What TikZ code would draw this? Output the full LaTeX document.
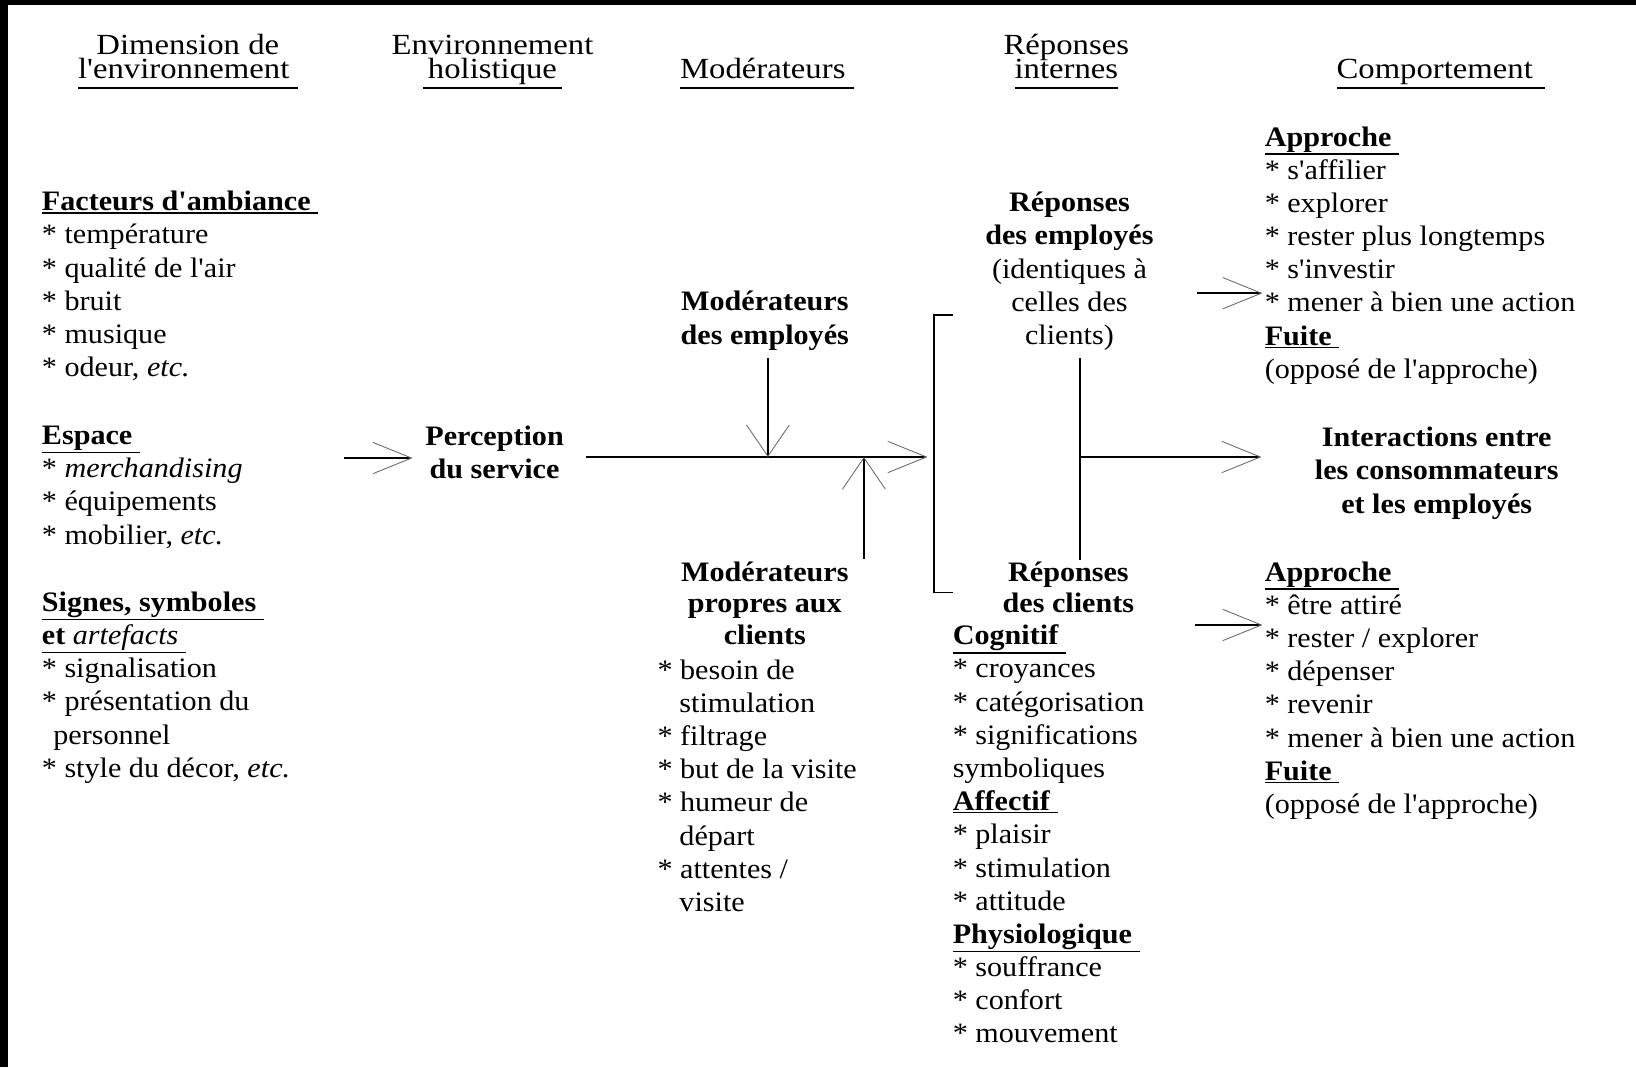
\documentclass[tikz,border=0pt]{standalone}
\usepackage{fontspec}
\setmainfont{Liberation Serif}
\newfontfamily\bodyfont[FakeStretch=1.07]{Liberation Serif}
\newfontfamily\headfont[FakeStretch=1.12]{Liberation Serif}
\usetikzlibrary{arrows.meta,calc}

% underline for the column headings: fixed distance under the baseline
\newcommand\hul[1]{\setbox0\hbox{#1}\rlap{\rule[-9.9pt]{\wd0}{1.8pt}}\box0}
% underline for the section titles: just under the descenders
\newcommand\bul[1]{\setbox0\hbox{#1}\rlap{\rule[\dimexpr-\dp0-2.4pt\relax]{\wd0}{1.3pt}}\box0}

% every text block is placed by the baseline of its last line
\tikzset{
  hdr/.style={font={\headfont\fontsize{28pt}{23pt}\selectfont\lineskiplimit=-40pt},
    align=center, inner sep=0pt, anchor=base},
  listtext/.style={font={\bodyfont\fontsize{27pt}{31.8pt}\selectfont\lineskiplimit=-40pt},
    align=left, inner sep=0pt, anchor=base west},
  sect/.style={font={\bodyfont\bfseries\fontsize{27pt}{32pt}\selectfont\lineskiplimit=-40pt},
    align=center, inner sep=0pt, anchor=base},
  wire/.style={line width=1.5pt},
  harr/.style={wire, -{Straight Barb[length=37pt,width=30pt,line width=0.8pt,color=black!60]}},
  varr/.style={wire, -{Straight Barb[length=30pt,width=41pt,line width=0.8pt,color=black!60]}},
}

\begin{document}
\begin{tikzpicture}[x=1pt,y=-1pt]
% page with its dark scan edge
\fill[black] (0,0) rectangle (1568,1023);
\fill[white] (8,5) rectangle (1568,1023);
\useasboundingbox (0,0) rectangle (1568,1023);

% column headings
\node[hdr] (hdim) at (180,75) {Dimension de\\\hul{l'environnement\ }};
\node[hdr] (hhol) at (472,75) {Environnement\\\hul{\hspace*{5pt}holistique\hspace*{5pt}}};
\node[hdr] (hmod) at (735,75) {\hul{Modérateurs\ }};
\node[hdr] (hrep) at (1022,75) {Réponses\\\hul{internes}};
\node[hdr] (hcomp) at (1381,75) {\hul{Comportement\ \kern4pt}};

% environment dimensions
\node[listtext] (amb) at (40,361) {\bul{\textbf{Facteurs d'ambiance\ }}\\{*} température\\{*} qualité de l'air\\{*} bruit\\{*} musique\\{*} odeur, \textit{etc.}};
\node[listtext] (esp) at (40,521.4) {\bul{\textbf{Espace\ }}\\{*} \textit{merchandising}\\{*} équipements\\{*} mobilier, \textit{etc.}};
\node[listtext] (sig) at (40,745) {\bul{\textbf{Signes, symboles\ }}\\\bul{\textbf{et \mdseries\itshape artefacts\ }}\\{*} signalisation\\{*} présentation du\\\hspace*{11pt}personnel\\{*} style du décor, \textit{etc.}};

% holistic environment
\node[sect] (perc) at (474,459) {Perception\\du service};

% moderators
\node[sect] (modemp) at (733,330) {Modérateurs\\des employés};
\node[sect] (modcli) at (733,618) {Modérateurs\\[-1.5pt]propres aux\\[-1.5pt]clients};
\node[listtext] (modlist) at (630,873.6) {{*} besoin de\\\hspace*{21pt}stimulation\\{*} filtrage\\{*} but de la visite\\{*} humeur de\\\hspace*{21pt}départ\\{*} attentes /\\\hspace*{21pt}visite};

% internal responses
\node[listtext, anchor=base, align=center] (repemp) at (1025,330.2) {\textbf{Réponses}\\\textbf{des employés}\\(identiques à\\celles des\\clients)};
\node[sect] (repcli) at (1024,587) {Réponses\\[-2pt]des clients};
\node[listtext] (cogn) at (913,999.6) {\bul{\textbf{Cognitif\ }}\\{*} croyances\\{*} catégorisation\\{*} significations\\symboliques\\\bul{\textbf{Affectif\ }}\\{*} plaisir\\{*} stimulation\\{*} attitude\\\bul{\textbf{Physiologique\ }}\\{*} souffrance\\{*} confort\\{*} mouvement};

% behaviour
\node[listtext] (appr1) at (1212,362.6) {\bul{\textbf{Approche\ }}\\{*} s'affilier\\{*} explorer\\{*} rester plus longtemps\\{*} s'investir\\{*} mener à bien une action\\\bul{\textbf{Fuite\ }}\\(opposé de l'approche)};
\node[sect] (inter) at (1377,492) {Interactions entre\\les consommateurs\\et les employés};
\node[listtext] (appr2) at (1212,779.6) {\bul{\textbf{Approche\ }}\\{*} être attiré\\{*} rester / explorer\\{*} dépenser\\{*} revenir\\{*} mener à bien une action\\\bul{\textbf{Fuite\ }}\\(opposé de l'approche)};

% junction points and free arrow ends
\coordinate (envout) at (330,439);
\coordinate (j1) at (736,438);
\coordinate (j2) at (828,438);
\coordinate (mainend) at (889,438);
\coordinate (brtop) at (913,302);
\coordinate (brbot) at (913,568);
\coordinate (vx) at (1035,438);
\coordinate (a1) at (1147,281);
\coordinate (a2) at (1145,599);

% connectors
\draw[harr] (envout) -- ($(envout -| perc.west)+(-12pt,0)$);
\draw[harr] ($(perc.east |- mainend)+(21pt,0)$) -- (mainend);
\draw[varr] ($(modemp.south -| j1)+(0,-7pt)$) -- (j1);
\draw[varr] ($(modcli.north -| j2)+(0,2pt)$) -- (j2);
\draw[wire] (brtop) -- ++(-18,0) |- (brbot);
\draw[wire] ($(repemp.south -| vx)+(0,-7pt)$) -- ($(repcli.north -| vx)+(0,1pt)$);
\draw[harr] (vx) -- ($(vx -| inter.west)+(-51pt,0)$);
\draw[harr] (a1) -- ($(a1 -| appr1.west)+(-2pt,0)$);
\draw[harr] (a2) -- ($(a2 -| appr2.west)+(-2pt,0)$);
\end{tikzpicture}
\end{document}
